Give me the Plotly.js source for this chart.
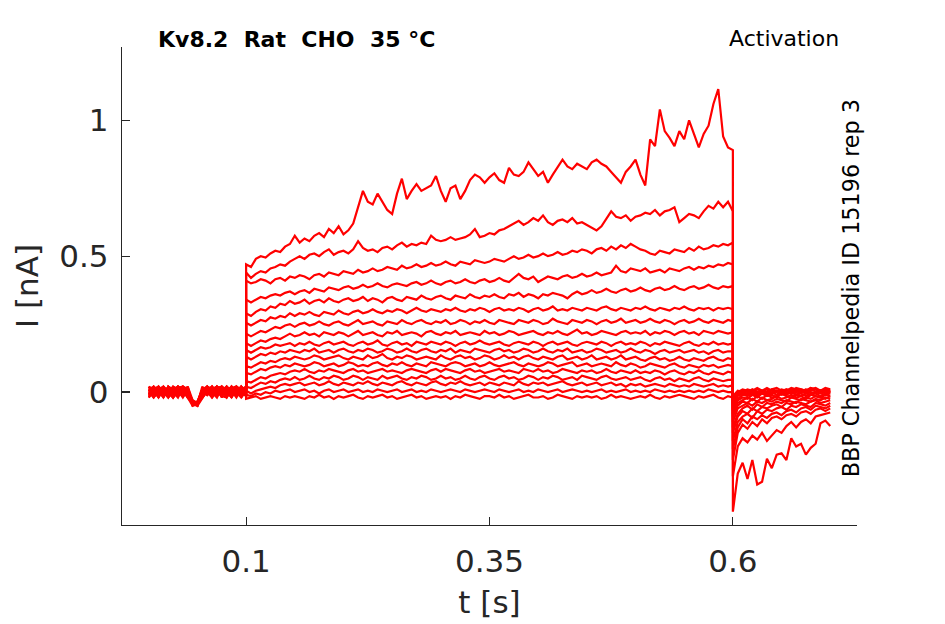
<!DOCTYPE html>
<html>
<head>
<meta charset="utf-8">
<script src="https://cdn.plot.ly/plotly-3.0.1.min.js"></script>
<style>body{margin:0;background:#fff;}</style>
</head>
<body>
<div id="plot" style="width:945px;height:624px;"></div>
<script>
// Kv8.2 activation protocol, 17 sweeps, current in pA
// sampled every 5 ms; holding 0-0.1 s, step 0.1-0.6 s, tail 0.6-0.7 s
var dt = 0.005;
var holdStart = 0.0;
var stepStart = 0.1;
var tailStart = 0.6;

var xTicks = [0.1, 0.35, 0.6];
var xTickText = ['0.1', '0.35', '0.6'];
var yTicks = [0, 0.5, 1];
var yTickText = ['0', '0.5', '1'];

// holding segment, one row per sweep
var holdI = [
    [10, -15, 20, 0, -20, 10, 5, -10, 15, -40, -45, -10, 10, -15, 20, 0, -10, 15, 20, -5, 10],
    [-10, 20, 5, -20, 10, 15, -10, 0, 10, -35, -50, 5, 20, 10, -15, 10, 0, 20, -10, 10, 0],
    [20, 0, -15, 10, -5, -20, 15, 20, -10, -45, -40, 10, -10, 5, 15, -20, 20, 0, 10, -15, 10],
    [0, 15, -20, 20, -10, 5, 20, -15, 0, -30, -45, -20, 0, 20, -10, 15, 5, -15, 20, 10, -10],
    [-20, 5, 15, -10, 20, 10, -15, 10, -20, -40, -35, 5, 10, -20, 0, 20, 10, -10, 5, 20, 0],
    [10, 20, -10, 0, -15, 20, 5, -20, 10, -35, -45, -10, 20, 0, 10, -15, -20, 10, 0, -10, 20],
    [0, -20, 10, 20, 5, -10, 15, 0, 20, -45, -50, -20, 5, 10, 20, -5, 10, -20, 15, 0, -10],
    [-10, 10, 0, -15, 20, 0, -20, 15, 5, -40, -35, 10, -10, 20, 0, -15, 20, 5, -20, 10, 15],
    [20, -10, 10, 5, -20, 10, 20, 0, -15, -35, -40, 0, 20, -10, 15, 20, -10, 10, 0, -20, 5],
    [5, 10, 20, -10, 15, -20, 0, 20, 10, -50, -45, -10, 10, 0, -20, 15, 0, 20, -10, 10, 20],
    [-15, 5, -20, 10, 0, 20, 10, -10, 5, -35, -50, 10, 0, -20, 10, 5, 20, -10, 10, 0, -15],
    [10, -20, 0, 20, -15, 5, -10, 20, 10, -45, -35, -20, 10, 20, 0, -10, 15, 0, 20, -20, 10],
    [20, 10, -10, 0, 15, -10, 20, 5, -20, -40, -50, 0, -10, 10, 20, 5, -20, 10, -10, 20, 0],
    [-20, 10, 20, 0, -10, 15, 0, -15, 20, -30, -40, 10, 20, -10, 5, 10, -15, 20, 0, 10, -10],
    [0, -10, 15, -20, 20, 5, 10, 20, -10, -45, -40, -10, 5, 10, -15, 20, 0, -20, 10, 5, 20],
    [10, 0, -15, 10, -20, 20, -10, 5, 10, -35, -45, 20, -10, 0, 15, -10, 20, 5, -10, 20, 0],
    [-10, 20, 5, 10, 0, -20, 20, 10, -20, -50, -40, 5, 10, -15, 20, 10, 0, -15, 20, -10, 10]
];

// step segment, one row per sweep
var stepI = [
    [470, 460, 490, 500, 495, 510, 520, 515, 535, 545, 575, 550, 565, 555, 575, 585, 570, 600, 585, 610,
     580, 595, 620, 680, 740, 700, 690, 730, 700, 670, 655, 730, 785, 710, 740, 765, 740, 750, 760, 795,
     740, 700, 750, 760, 710, 740, 780, 800, 790, 770, 790, 805, 780, 770, 825, 800, 795, 810, 845, 820,
     795, 810, 770, 800, 830, 855, 830, 820, 840, 830, 820, 845, 855, 840, 830, 810, 790, 770, 810, 830,
     855, 800, 760, 930, 905, 1040, 960, 935, 905, 960, 930, 1000, 950, 900, 950, 980, 1060, 1115, 940, 900, 890],
    [440, 420, 435, 445, 440, 455, 460, 470, 465, 480, 490, 500, 490, 505, 510, 500, 515, 525, 505, 515,
     520, 510, 525, 555, 530, 520, 525, 515, 530, 535, 525, 540, 550, 535, 545, 540, 550, 545, 575, 560,
     555, 560, 570, 560, 565, 570, 580, 600, 570, 575, 585, 580, 595, 600, 610, 620, 630, 615, 625, 640,
     630, 650, 625, 615, 630, 635, 625, 640, 620, 625, 615, 605, 595, 610, 640, 665, 645, 640, 650, 630,
     645, 650, 660, 655, 670, 650, 665, 670, 680, 625, 640, 655, 650, 640, 665, 685, 675, 700, 680, 700, 665],
    [410, 400, 405, 415, 410, 400, 415, 420, 410, 425, 420, 430, 425, 415, 430, 435, 425, 440, 435, 430,
     445, 440, 435, 450, 440, 445, 455, 445, 450, 460, 455, 450, 465, 455, 460, 470, 460, 465, 475, 465,
     470, 480, 470, 465, 480, 475, 470, 485, 480, 475, 480, 490, 485, 480, 490, 500, 490, 495, 505, 495,
     500, 510, 500, 505, 515, 505, 510, 520, 515, 525, 520, 510, 525, 530, 520, 535, 525, 540, 530, 545,
     535, 525, 520, 510, 505, 520, 515, 510, 525, 520, 515, 530, 520, 535, 525, 530, 540, 535, 545, 540, 550],
    [340, 330, 340, 350, 345, 355, 360, 355, 365, 370, 360, 370, 375, 365, 380, 375, 370, 385, 380, 375,
     385, 390, 380, 385, 395, 385, 390, 400, 390, 385, 395, 400, 395, 390, 400, 405, 395, 400, 410, 400,
     395, 405, 410, 400, 405, 415, 405, 400, 410, 415, 405, 410, 420, 410, 405, 420, 435, 420, 415, 425,
     405, 415, 425, 420, 415, 425, 430, 420, 425, 435, 425, 430, 440, 430, 435, 440, 465, 445, 440, 455,
     450, 445, 455, 440, 445, 450, 440, 455, 450, 445, 455, 460, 450, 460, 455, 465, 460, 470, 465, 475, 470],
    [290, 280, 295, 305, 300, 315, 310, 325, 320, 335, 325, 330, 340, 325, 335, 340, 330, 345, 335, 330,
     340, 345, 335, 340, 350, 335, 345, 340, 330, 345, 350, 340, 335, 350, 345, 340, 355, 345, 340, 350,
     355, 345, 340, 355, 350, 345, 360, 350, 345, 355, 350, 360, 350, 345, 360, 355, 365, 350, 360, 355,
     345, 360, 355, 365, 360, 355, 345, 360, 370, 360, 365, 375, 365, 370, 380, 370, 365, 375, 380, 370,
     375, 385, 375, 370, 380, 385, 375, 380, 390, 380, 375, 385, 390, 380, 385, 395, 385, 380, 390, 385, 390],
    [255, 245, 255, 265, 260, 275, 270, 280, 275, 290, 280, 290, 285, 295, 285, 280, 295, 290, 285, 300,
     290, 285, 295, 300, 290, 295, 305, 295, 290, 300, 295, 305, 300, 290, 300, 310, 300, 295, 305, 300,
     295, 305, 300, 310, 300, 295, 305, 300, 310, 305, 295, 305, 310, 300, 305, 300, 310, 305, 295, 305,
     310, 300, 305, 315, 300, 305, 300, 310, 305, 300, 310, 305, 300, 310, 315, 305, 300, 310, 305, 300,
     310, 305, 315, 305, 300, 310, 305, 300, 310, 305, 315, 305, 300, 310, 305, 310, 300, 310, 305, 310, 305],
    [215, 205, 215, 225, 220, 230, 240, 235, 245, 250, 240, 250, 255, 245, 250, 260, 250, 245, 255, 260,
     250, 245, 255, 265, 250, 255, 260, 250, 245, 260, 255, 250, 265, 255, 250, 260, 265, 255, 250, 260,
     255, 265, 250, 255, 265, 260, 250, 260, 255, 265, 255, 250, 265, 260, 255, 250, 265, 260, 255, 265,
     260, 250, 255, 270, 260, 255, 250, 265, 260, 255, 265, 260, 250, 260, 265, 255, 260, 270, 255, 260,
     265, 255, 260, 270, 260, 255, 265, 260, 250, 260, 265, 255, 260, 270, 260, 255, 265, 260, 255, 265, 260],
    [180, 170, 180, 190, 185, 195, 200, 195, 205, 215, 205, 210, 220, 210, 215, 205, 220, 215, 210, 220,
     215, 205, 215, 225, 210, 215, 220, 210, 205, 220, 215, 225, 210, 215, 220, 215, 205, 220, 225, 215,
     210, 220, 215, 225, 210, 215, 220, 215, 210, 225, 215, 220, 210, 215, 225, 220, 210, 215, 220, 225,
     215, 210, 220, 215, 225, 215, 210, 220, 230, 215, 220, 210, 215, 225, 220, 215, 210, 220, 225, 215,
     220, 215, 225, 210, 220, 215, 225, 220, 210, 220, 225, 215, 220, 210, 225, 220, 215, 225, 220, 215, 220],
    [155, 145, 155, 165, 160, 165, 175, 170, 175, 180, 170, 180, 175, 185, 175, 170, 180, 185, 175, 180,
     185, 175, 170, 180, 185, 175, 180, 190, 175, 170, 180, 185, 175, 180, 170, 185, 180, 175, 185, 180,
     175, 185, 180, 170, 180, 185, 175, 180, 190, 180, 175, 180, 185, 175, 170, 180, 185, 180, 175, 185,
     180, 170, 180, 185, 175, 180, 185, 175, 170, 180, 185, 180, 175, 185, 180, 170, 180, 185, 175, 180,
     175, 185, 180, 170, 180, 175, 185, 180, 175, 170, 180, 185, 175, 170, 180, 175, 185, 175, 180, 175, 180],
    [130, 120, 130, 140, 135, 145, 140, 150, 145, 155, 150, 145, 155, 150, 160, 145, 150, 155, 145, 155,
     160, 150, 145, 155, 150, 160, 155, 145, 150, 160, 155, 145, 150, 160, 150, 145, 155, 160, 150, 145,
     155, 150, 160, 145, 155, 150, 145, 160, 155, 150, 145, 155, 160, 150, 155, 145, 150, 160, 155, 145,
     150, 160, 150, 145, 155, 150, 160, 145, 150, 155, 145, 150, 160, 155, 145, 150, 155, 145, 150, 160,
     150, 145, 155, 150, 140, 150, 155, 145, 150, 155, 145, 150, 155, 145, 150, 140, 150, 155, 145, 150, 150],
    [95, 90, 100, 110, 105, 115, 110, 120, 125, 120, 130, 125, 120, 125, 135, 130, 120, 125, 130, 135,
     125, 120, 130, 125, 120, 135, 125, 130, 140, 125, 120, 130, 125, 135, 130, 120, 125, 130, 125, 120,
     135, 125, 120, 130, 135, 125, 130, 120, 125, 135, 130, 120, 125, 135, 125, 130, 120, 130, 135, 125,
     120, 130, 125, 120, 130, 135, 120, 125, 130, 120, 125, 135, 120, 125, 130, 120, 125, 135, 120, 125,
     130, 120, 115, 125, 130, 120, 125, 115, 120, 130, 120, 115, 125, 120, 115, 125, 130, 120, 115, 125, 120],
    [70, 65, 75, 85, 80, 90, 95, 90, 100, 95, 105, 100, 95, 100, 110, 105, 95, 100, 105, 95,
     100, 110, 105, 95, 100, 95, 105, 110, 100, 95, 105, 100, 110, 100, 95, 105, 100, 95, 110, 105,
     100, 95, 105, 110, 105, 95, 100, 105, 95, 100, 110, 100, 95, 100, 105, 110, 100, 95, 105, 100,
     95, 100, 110, 105, 95, 100, 105, 110, 95, 100, 105, 95, 100, 105, 100, 95, 110, 100, 95, 105,
     100, 90, 95, 105, 100, 95, 90, 100, 105, 95, 90, 100, 95, 90, 100, 95, 100, 90, 95, 100, 95],
    [40, 35, 45, 55, 50, 60, 65, 70, 65, 75, 80, 75, 85, 75, 70, 80, 75, 85, 80, 75,
     70, 80, 85, 75, 80, 70, 75, 80, 85, 75, 80, 75, 70, 80, 85, 80, 75, 70, 80, 85,
     75, 85, 80, 75, 70, 80, 85, 75, 80, 70, 75, 80, 85, 75, 80, 75, 70, 85, 80, 75,
     85, 75, 80, 70, 75, 85, 80, 75, 70, 80, 75, 80, 70, 75, 85, 75, 70, 80, 75, 70,
     80, 70, 75, 70, 80, 75, 65, 75, 80, 70, 65, 75, 70, 80, 70, 65, 75, 70, 65, 75, 70],
    [20, 15, 25, 35, 30, 40, 35, 45, 50, 45, 55, 45, 50, 60, 50, 45, 55, 50, 60, 55,
     45, 50, 60, 55, 45, 55, 50, 45, 60, 50, 55, 60, 50, 45, 55, 50, 60, 55, 45, 50,
     60, 50, 55, 45, 50, 60, 50, 45, 55, 60, 50, 45, 55, 60, 50, 55, 45, 50, 60, 55,
     45, 55, 50, 60, 55, 45, 50, 55, 45, 60, 55, 50, 45, 55, 60, 50, 45, 50, 55, 45,
     50, 55, 45, 40, 50, 55, 45, 50, 40, 50, 45, 40, 50, 55, 45, 40, 50, 45, 40, 45, 45],
    [5, -5, 5, 10, 15, 20, 15, 25, 30, 25, 30, 35, 25, 30, 35, 25, 30, 40, 30, 25,
     35, 30, 25, 35, 30, 40, 30, 25, 35, 30, 25, 35, 40, 30, 25, 35, 30, 25, 35, 40,
     30, 25, 35, 30, 40, 30, 25, 30, 35, 25, 35, 30, 25, 35, 30, 25, 40, 30, 25, 35,
     30, 35, 25, 30, 35, 40, 30, 25, 30, 35, 25, 30, 35, 25, 30, 35, 25, 30, 20, 30,
     25, 30, 20, 25, 30, 25, 20, 30, 25, 20, 25, 20, 30, 25, 20, 25, 30, 20, 25, 20, 25],
    [-10, -15, -5, -10, 0, -5, 5, 0, 5, 10, 0, 5, 10, 0, 5, -5, 5, 10, 0, 5,
     10, 0, 5, 10, 0, 5, 0, 10, 5, 0, 5, 10, 0, 5, 10, 0, 5, 0, 10, 5,
     0, 5, 10, 5, 0, 10, 5, 0, 5, 10, 5, 0, 10, 5, 0, 5, 10, 0, 5, 0,
     10, 5, 0, 5, 10, 0, 5, 10, 5, 0, 5, 0, 5, 10, 0, 5, 0, 5, 10, 0,
     5, 0, 5, 0, 10, 5, 0, 5, 0, 5, 0, 5, 0, 5, 0, 10, 5, 0, 5, 0, 0],
    [-25, -20, -15, -25, -20, -15, -20, -25, -15, -20, -15, -20, -25, -15, -20, -10, -20, -15, -25, -15,
     -20, -15, -10, -20, -25, -15, -20, -15, -10, -20, -15, -25, -20, -15, -10, -20, -15, -25, -20, -15,
     -20, -15, -25, -15, -20, -10, -15, -20, -25, -15, -15, -20, -10, -20, -15, -25, -20, -15, -10, -20,
     -20, -15, -25, -20, -10, -15, -20, -25, -15, -20, -15, -20, -15, -25, -20, -10, -20, -15, -20, -25,
     -20, -15, -20, -10, -20, -25, -15, -20, -15, -10, -15, -20, -25, -15, -20, -15, -10, -20, -25, -15, -20]
];

// tail segment, one row per sweep
var tailI = [
    [-440, -300, -260, -320, -250, -340, -330, -245, -280, -230, -225, -250, -170, -200, -190, -230, -205, -190, -115, -105, -125],
    [-310, -200, -170, -185, -160, -175, -150, -180, -160, -140, -150, -125, -110, -130, -110, -100, -115, -90, -85, -80, -75],
    [-250, -150, -120, -135, -110, -125, -100, -115, -95, -90, -100, -85, -80, -90, -75, -70, -80, -65, -60, -70, -60],
    [-210, -130, -100, -115, -90, -100, -85, -95, -80, -75, -85, -70, -65, -75, -60, -55, -65, -50, -55, -60, -50],
    [-180, -110, -90, -80, -95, -70, -80, -65, -70, -60, -55, -65, -50, -55, -45, -50, -55, -40, -45, -50, -40],
    [-150, -90, -70, -80, -60, -70, -55, -60, -50, -45, -55, -40, -45, -35, -40, -45, -35, -30, -40, -35, -30],
    [-130, -80, -60, -50, -65, -45, -55, -40, -45, -35, -40, -30, -35, -40, -25, -30, -35, -25, -30, -20, -25],
    [-110, -60, -50, -40, -50, -35, -40, -30, -35, -25, -30, -35, -20, -25, -30, -20, -25, -15, -20, -25, -15],
    [-90, -50, -35, -40, -25, -35, -20, -30, -25, -15, -25, -20, -10, -20, -15, -25, -10, -15, -20, -10, -15],
    [-80, -40, -30, -20, -30, -15, -25, -10, -20, -15, -5, -15, -20, -10, -5, -15, -10, -5, -15, -10, -5],
    [-70, -30, -20, -25, -10, -20, -5, -15, -10, -20, -5, -10, 0, -10, -15, -5, -10, 0, -5, -10, 0],
    [-60, -25, -10, -15, -5, -15, 0, -10, -5, 5, -10, -5, 0, -10, 5, -5, 0, -5, 5, -5, 0],
    [-50, -15, -5, -10, 0, -10, 5, -5, 0, -10, 5, 0, -5, 5, 0, 10, -5, 0, 5, -5, 5],
    [-40, -10, 0, -5, 5, -5, 0, 10, -5, 5, 0, -5, 10, 0, 5, -5, 5, 10, 0, 5, 0],
    [-30, -5, 5, 0, 10, 0, 5, -5, 10, 5, 0, 10, 5, 0, 10, 5, 15, 0, 5, 10, 5],
    [-20, 0, 10, 5, 0, 10, 5, 15, 5, 0, 10, 5, 15, 10, 5, 0, 10, 15, 5, 10, 5],
    [-15, 5, 0, 10, 5, 15, 5, 0, 10, 15, 5, 10, 0, 15, 10, 5, 15, 10, 5, 15, 10]
];

var axisColor = '#262626';

function timeBase(t0, n) {
    var t = [];
    for (var i = 0; i < n; i++) {
        t.push(Math.round((t0 + i * dt) * 10000) / 10000);
    }
    return t;
}

var data = [];
for (var k = 0; k < stepI.length; k++) {
    var x = timeBase(holdStart, holdI[k].length)
        .concat(timeBase(stepStart, stepI[k].length), timeBase(tailStart, tailI[k].length));
    var y = holdI[k].concat(stepI[k], tailI[k]).map(function (v) { return v / 1000; }); // pA -> nA
    data.push({
        x: x,
        y: y,
        type: 'scatter',
        mode: 'lines',
        line: { color: '#ff0000', width: 2.2 },
        hoverinfo: 'skip'
    });
}

var layout = {
    width: 945,
    height: 624,
    margin: { l: 122, r: 88, t: 47, b: 99, pad: 0 },
    paper_bgcolor: '#ffffff',
    plot_bgcolor: '#ffffff',
    showlegend: false,
    font: { family: 'DejaVu Sans', color: axisColor },
    title: {
        text: '<b>Kv8.2\u00a0\u00a0Rat\u00a0\u00a0CHO\u00a0\u00a035 \u00b0C</b>',
        font: { size: 22, color: '#000000' },
        xref: 'container',
        yref: 'container',
        x: 158 / 945,
        xanchor: 'left',
        y: 1 - 39 / 624,
        yanchor: 'middle'
    },
    xaxis: {
        range: [-0.0275, 0.7275],
        tickmode: 'array',
        tickvals: xTicks,
        ticktext: xTickText,
        ticks: 'inside',
        ticklen: 8,
        tickwidth: 1.2,
        tickcolor: axisColor,
        ticklabelstandoff: 9,
        showline: true,
        linecolor: axisColor,
        linewidth: 1.2,
        showgrid: false,
        zeroline: false,
        tickfont: { size: 31, color: axisColor },
        title: { text: 't [s]', font: { size: 31, color: axisColor }, standoff: 12 }
    },
    yaxis: {
        range: [-0.489, 1.2695],
        tickmode: 'array',
        tickvals: yTicks,
        ticktext: yTickText,
        ticks: 'inside',
        ticklen: 8,
        tickwidth: 1.2,
        tickcolor: axisColor,
        ticklabelstandoff: 6,
        showline: true,
        linecolor: axisColor,
        linewidth: 1.2,
        showgrid: false,
        zeroline: false,
        tickfont: { size: 31, color: axisColor },
        title: { text: 'I [nA]', font: { size: 31, color: axisColor }, standoff: 11 }
    },
    annotations: [
        {
            text: 'Activation',
            xref: 'paper', yref: 'paper',
            x: (841 - 122) / 734.7, xanchor: 'right',
            y: (525 - 39) / 478, yanchor: 'middle',
            showarrow: false,
            font: { size: 22, color: '#000000' }
        },
        {
            text: 'BBP Channelpedia ID 15196 rep 3',
            xref: 'paper', yref: 'paper',
            x: (851 - 122) / 734.7, xanchor: 'center',
            y: (525 - 288) / 478, yanchor: 'middle',
            textangle: -90,
            showarrow: false,
            font: { size: 22.3, color: '#000000' }
        }
    ]
};

Plotly.newPlot('plot', data, layout, { displayModeBar: false, staticPlot: true });
</script>
</body>
</html>
